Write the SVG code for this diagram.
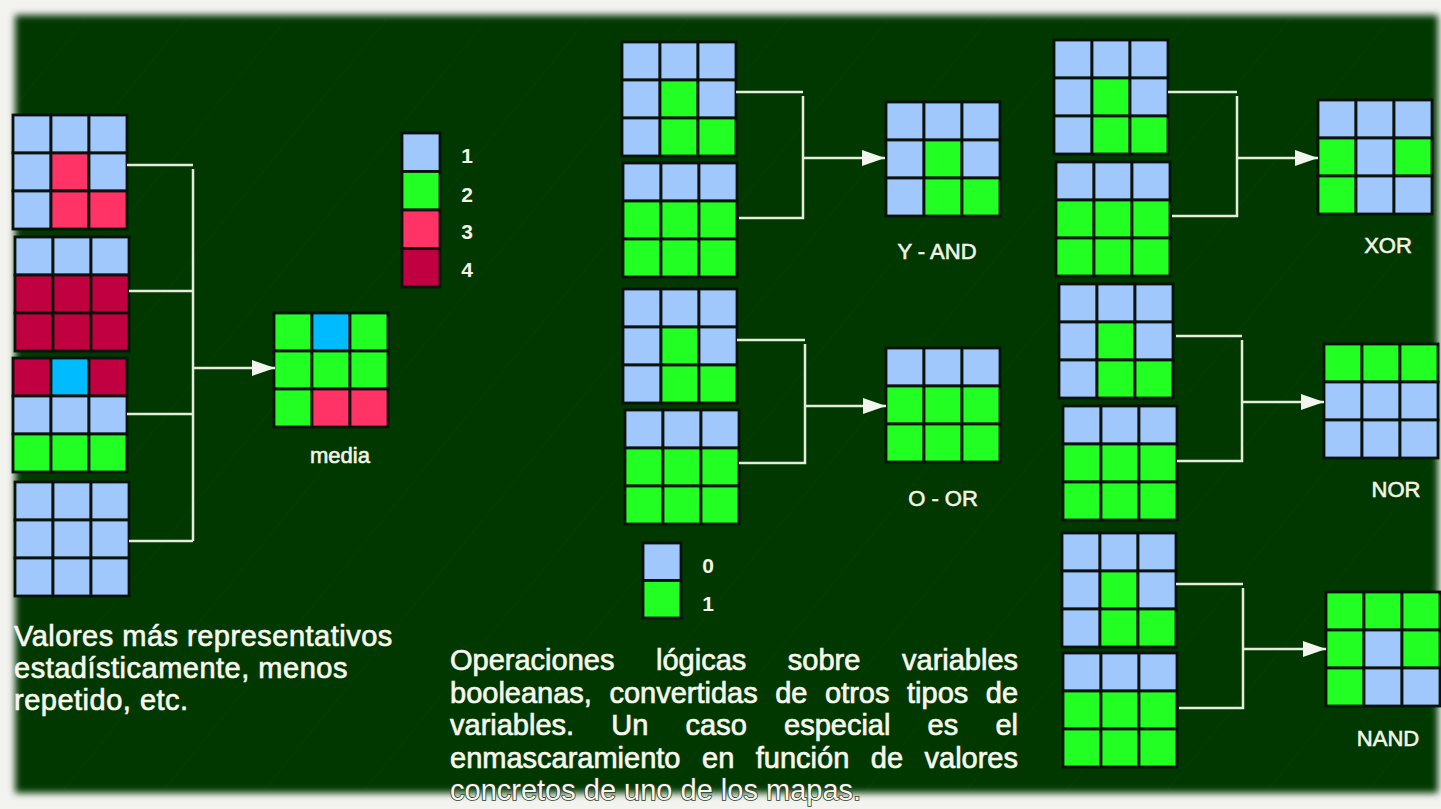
<svg xmlns="http://www.w3.org/2000/svg" width="1441" height="809" viewBox="0 0 1441 809">
<defs>
<style>
.c{stroke:#0a130b;stroke-width:2.8}
.L{fill:#a0c8fc}
.G{fill:#22ff22}
.P{fill:#ff3366}
.D{fill:#c00040}
.C{fill:#00bbff}
.wire{fill:none;stroke:#e4ecdc;stroke-width:2.5}
.lbl{font-family:"Liberation Sans",Arial,sans-serif;fill:#f4f4e6;stroke:#f4f4e6;stroke-width:0.6px;font-size:22px;text-anchor:middle}
.num{font-family:"Liberation Sans",Arial,sans-serif;fill:#f4f4e6;font-size:21px;font-weight:bold;text-anchor:middle}
.para{font-family:"Liberation Sans",Arial,sans-serif;fill:#f7f7ee;stroke:#f7f7ee;stroke-width:0.7px;font-size:29px}
</style>
<filter id="soft" x="-5%" y="-5%" width="110%" height="110%"><feGaussianBlur stdDeviation="3.5"/></filter>
<pattern id="diag" patternUnits="userSpaceOnUse" width="78" height="20" patternTransform="rotate(39)">
<line x1="0" y1="0" x2="0" y2="20" stroke="#ffffff" stroke-opacity="0.04" stroke-width="1"/>
</pattern>
<marker id="ah" markerUnits="userSpaceOnUse" markerWidth="24" markerHeight="18" refX="23" refY="8.5" orient="auto">
<path d="M0,0.5 L23,8.5 L0,16.5 z" fill="#f2f6ee"/>
</marker>
</defs>

<rect x="0" y="0" width="1441" height="809" fill="#f3f4f0"/>
<rect x="15" y="15" width="1423" height="778" fill="#033803" filter="url(#soft)"/>
<rect x="19" y="19" width="1415" height="770" fill="url(#diag)"/>

<g id="left-g1" transform="translate(13,115)">
<rect class="c L" x="0" y="0" width="38" height="38"/><rect class="c L" x="38" y="0" width="38" height="38"/><rect class="c L" x="76" y="0" width="38" height="38"/>
<rect class="c L" x="0" y="38" width="38" height="38"/><rect class="c P" x="38" y="38" width="38" height="38"/><rect class="c L" x="76" y="38" width="38" height="38"/>
<rect class="c L" x="0" y="76" width="38" height="38"/><rect class="c P" x="38" y="76" width="38" height="38"/><rect class="c P" x="76" y="76" width="38" height="38"/>
</g>
<g id="left-g2" transform="translate(15,237)">
<rect class="c L" x="0" y="0" width="38" height="38"/><rect class="c L" x="38" y="0" width="38" height="38"/><rect class="c L" x="76" y="0" width="38" height="38"/>
<rect class="c D" x="0" y="38" width="38" height="38"/><rect class="c D" x="38" y="38" width="38" height="38"/><rect class="c D" x="76" y="38" width="38" height="38"/>
<rect class="c D" x="0" y="76" width="38" height="38"/><rect class="c D" x="38" y="76" width="38" height="38"/><rect class="c D" x="76" y="76" width="38" height="38"/>
</g>
<g id="left-g3" transform="translate(13,358)">
<rect class="c D" x="0" y="0" width="38" height="38"/><rect class="c C" x="38" y="0" width="38" height="38"/><rect class="c D" x="76" y="0" width="38" height="38"/>
<rect class="c L" x="0" y="38" width="38" height="38"/><rect class="c L" x="38" y="38" width="38" height="38"/><rect class="c L" x="76" y="38" width="38" height="38"/>
<rect class="c G" x="0" y="76" width="38" height="38"/><rect class="c G" x="38" y="76" width="38" height="38"/><rect class="c G" x="76" y="76" width="38" height="38"/>
</g>
<g id="left-g4" transform="translate(15,482)">
<rect class="c L" x="0" y="0" width="38" height="38"/><rect class="c L" x="38" y="0" width="38" height="38"/><rect class="c L" x="76" y="0" width="38" height="38"/>
<rect class="c L" x="0" y="38" width="38" height="38"/><rect class="c L" x="38" y="38" width="38" height="38"/><rect class="c L" x="76" y="38" width="38" height="38"/>
<rect class="c L" x="0" y="76" width="38" height="38"/><rect class="c L" x="38" y="76" width="38" height="38"/><rect class="c L" x="76" y="76" width="38" height="38"/>
</g>
<g id="media" transform="translate(274,313)">
<rect class="c G" x="0" y="0" width="38" height="38"/><rect class="c C" x="38" y="0" width="38" height="38"/><rect class="c G" x="76" y="0" width="38" height="38"/>
<rect class="c G" x="0" y="38" width="38" height="38"/><rect class="c G" x="38" y="38" width="38" height="38"/><rect class="c G" x="76" y="38" width="38" height="38"/>
<rect class="c G" x="0" y="76" width="38" height="38"/><rect class="c P" x="38" y="76" width="38" height="38"/><rect class="c P" x="76" y="76" width="38" height="38"/>
<text class="lbl" x="66" y="150">media</text>
</g>
<g id="legend-values" transform="translate(402,133)">
<rect class="c L" x="0" y="0" width="38" height="38.5"/>
<rect class="c G" x="0" y="38.5" width="38" height="38.5"/>
<rect class="c P" x="0" y="77" width="38" height="38.5"/>
<rect class="c D" x="0" y="115.5" width="38" height="38.5"/>
<text class="num" x="65" y="30">1</text>
<text class="num" x="65" y="69">2</text>
<text class="num" x="65" y="106">3</text>
<text class="num" x="65" y="144">4</text>
</g>

<g id="and-a" transform="translate(622,42)">
<rect class="c L" x="0" y="0" width="38" height="38"/><rect class="c L" x="38" y="0" width="38" height="38"/><rect class="c L" x="76" y="0" width="38" height="38"/>
<rect class="c L" x="0" y="38" width="38" height="38"/><rect class="c G" x="38" y="38" width="38" height="38"/><rect class="c L" x="76" y="38" width="38" height="38"/>
<rect class="c L" x="0" y="76" width="38" height="38"/><rect class="c G" x="38" y="76" width="38" height="38"/><rect class="c G" x="76" y="76" width="38" height="38"/>
</g>
<g id="and-b" transform="translate(623,163)">
<rect class="c L" x="0" y="0" width="38" height="38"/><rect class="c L" x="38" y="0" width="38" height="38"/><rect class="c L" x="76" y="0" width="38" height="38"/>
<rect class="c G" x="0" y="38" width="38" height="38"/><rect class="c G" x="38" y="38" width="38" height="38"/><rect class="c G" x="76" y="38" width="38" height="38"/>
<rect class="c G" x="0" y="76" width="38" height="38"/><rect class="c G" x="38" y="76" width="38" height="38"/><rect class="c G" x="76" y="76" width="38" height="38"/>
</g>
<g id="and-out" transform="translate(886,102)">
<rect class="c L" x="0" y="0" width="38" height="38"/><rect class="c L" x="38" y="0" width="38" height="38"/><rect class="c L" x="76" y="0" width="38" height="38"/>
<rect class="c L" x="0" y="38" width="38" height="38"/><rect class="c G" x="38" y="38" width="38" height="38"/><rect class="c L" x="76" y="38" width="38" height="38"/>
<rect class="c L" x="0" y="76" width="38" height="38"/><rect class="c G" x="38" y="76" width="38" height="38"/><rect class="c G" x="76" y="76" width="38" height="38"/>
<text class="lbl" x="51" y="157">Y - AND</text>
</g>

<g id="or-a" transform="translate(623,289)">
<rect class="c L" x="0" y="0" width="38" height="38"/><rect class="c L" x="38" y="0" width="38" height="38"/><rect class="c L" x="76" y="0" width="38" height="38"/>
<rect class="c L" x="0" y="38" width="38" height="38"/><rect class="c G" x="38" y="38" width="38" height="38"/><rect class="c L" x="76" y="38" width="38" height="38"/>
<rect class="c L" x="0" y="76" width="38" height="38"/><rect class="c G" x="38" y="76" width="38" height="38"/><rect class="c G" x="76" y="76" width="38" height="38"/>
</g>
<g id="or-b" transform="translate(625,410)">
<rect class="c L" x="0" y="0" width="38" height="38"/><rect class="c L" x="38" y="0" width="38" height="38"/><rect class="c L" x="76" y="0" width="38" height="38"/>
<rect class="c G" x="0" y="38" width="38" height="38"/><rect class="c G" x="38" y="38" width="38" height="38"/><rect class="c G" x="76" y="38" width="38" height="38"/>
<rect class="c G" x="0" y="76" width="38" height="38"/><rect class="c G" x="38" y="76" width="38" height="38"/><rect class="c G" x="76" y="76" width="38" height="38"/>
</g>
<g id="or-out" transform="translate(886,348)">
<rect class="c L" x="0" y="0" width="38" height="38"/><rect class="c L" x="38" y="0" width="38" height="38"/><rect class="c L" x="76" y="0" width="38" height="38"/>
<rect class="c G" x="0" y="38" width="38" height="38"/><rect class="c G" x="38" y="38" width="38" height="38"/><rect class="c G" x="76" y="38" width="38" height="38"/>
<rect class="c G" x="0" y="76" width="38" height="38"/><rect class="c G" x="38" y="76" width="38" height="38"/><rect class="c G" x="76" y="76" width="38" height="38"/>
<text class="lbl" x="57" y="158">O - OR</text>
</g>
<g id="legend-bool" transform="translate(643,543)">
<rect class="c L" x="0" y="0" width="38" height="37.5"/>
<rect class="c G" x="0" y="37.5" width="38" height="37.5"/>
<text class="num" x="65" y="30">0</text>
<text class="num" x="65" y="68">1</text>
</g>

<g id="xor-a" transform="translate(1054,40)">
<rect class="c L" x="0" y="0" width="38" height="38"/><rect class="c L" x="38" y="0" width="38" height="38"/><rect class="c L" x="76" y="0" width="38" height="38"/>
<rect class="c L" x="0" y="38" width="38" height="38"/><rect class="c G" x="38" y="38" width="38" height="38"/><rect class="c L" x="76" y="38" width="38" height="38"/>
<rect class="c L" x="0" y="76" width="38" height="38"/><rect class="c G" x="38" y="76" width="38" height="38"/><rect class="c G" x="76" y="76" width="38" height="38"/>
</g>
<g id="xor-b" transform="translate(1056,162)">
<rect class="c L" x="0" y="0" width="38" height="38"/><rect class="c L" x="38" y="0" width="38" height="38"/><rect class="c L" x="76" y="0" width="38" height="38"/>
<rect class="c G" x="0" y="38" width="38" height="38"/><rect class="c G" x="38" y="38" width="38" height="38"/><rect class="c G" x="76" y="38" width="38" height="38"/>
<rect class="c G" x="0" y="76" width="38" height="38"/><rect class="c G" x="38" y="76" width="38" height="38"/><rect class="c G" x="76" y="76" width="38" height="38"/>
</g>
<g id="xor-out" transform="translate(1318,100)">
<rect class="c L" x="0" y="0" width="38" height="38"/><rect class="c L" x="38" y="0" width="38" height="38"/><rect class="c L" x="76" y="0" width="38" height="38"/>
<rect class="c G" x="0" y="38" width="38" height="38"/><rect class="c L" x="38" y="38" width="38" height="38"/><rect class="c G" x="76" y="38" width="38" height="38"/>
<rect class="c G" x="0" y="76" width="38" height="38"/><rect class="c L" x="38" y="76" width="38" height="38"/><rect class="c L" x="76" y="76" width="38" height="38"/>
<text class="lbl" x="70" y="153">XOR</text>
</g>

<g id="nor-a" transform="translate(1059,284)">
<rect class="c L" x="0" y="0" width="38" height="38"/><rect class="c L" x="38" y="0" width="38" height="38"/><rect class="c L" x="76" y="0" width="38" height="38"/>
<rect class="c L" x="0" y="38" width="38" height="38"/><rect class="c G" x="38" y="38" width="38" height="38"/><rect class="c L" x="76" y="38" width="38" height="38"/>
<rect class="c L" x="0" y="76" width="38" height="38"/><rect class="c G" x="38" y="76" width="38" height="38"/><rect class="c G" x="76" y="76" width="38" height="38"/>
</g>
<g id="nor-b" transform="translate(1063,406)">
<rect class="c L" x="0" y="0" width="38" height="38"/><rect class="c L" x="38" y="0" width="38" height="38"/><rect class="c L" x="76" y="0" width="38" height="38"/>
<rect class="c G" x="0" y="38" width="38" height="38"/><rect class="c G" x="38" y="38" width="38" height="38"/><rect class="c G" x="76" y="38" width="38" height="38"/>
<rect class="c G" x="0" y="76" width="38" height="38"/><rect class="c G" x="38" y="76" width="38" height="38"/><rect class="c G" x="76" y="76" width="38" height="38"/>
</g>
<g id="nor-out" transform="translate(1324,344)">
<rect class="c G" x="0" y="0" width="38" height="38"/><rect class="c G" x="38" y="0" width="38" height="38"/><rect class="c G" x="76" y="0" width="38" height="38"/>
<rect class="c L" x="0" y="38" width="38" height="38"/><rect class="c L" x="38" y="38" width="38" height="38"/><rect class="c L" x="76" y="38" width="38" height="38"/>
<rect class="c L" x="0" y="76" width="38" height="38"/><rect class="c L" x="38" y="76" width="38" height="38"/><rect class="c L" x="76" y="76" width="38" height="38"/>
<text class="lbl" x="72" y="153">NOR</text>
</g>

<g id="nand-a" transform="translate(1062,533)">
<rect class="c L" x="0" y="0" width="38" height="38"/><rect class="c L" x="38" y="0" width="38" height="38"/><rect class="c L" x="76" y="0" width="38" height="38"/>
<rect class="c L" x="0" y="38" width="38" height="38"/><rect class="c G" x="38" y="38" width="38" height="38"/><rect class="c L" x="76" y="38" width="38" height="38"/>
<rect class="c L" x="0" y="76" width="38" height="38"/><rect class="c G" x="38" y="76" width="38" height="38"/><rect class="c G" x="76" y="76" width="38" height="38"/>
</g>
<g id="nand-b" transform="translate(1063,653)">
<rect class="c L" x="0" y="0" width="38" height="38"/><rect class="c L" x="38" y="0" width="38" height="38"/><rect class="c L" x="76" y="0" width="38" height="38"/>
<rect class="c G" x="0" y="38" width="38" height="38"/><rect class="c G" x="38" y="38" width="38" height="38"/><rect class="c G" x="76" y="38" width="38" height="38"/>
<rect class="c G" x="0" y="76" width="38" height="38"/><rect class="c G" x="38" y="76" width="38" height="38"/><rect class="c G" x="76" y="76" width="38" height="38"/>
</g>
<g id="nand-out" transform="translate(1326,592)">
<rect class="c G" x="0" y="0" width="38" height="38"/><rect class="c G" x="38" y="0" width="38" height="38"/><rect class="c G" x="76" y="0" width="38" height="38"/>
<rect class="c G" x="0" y="38" width="38" height="38"/><rect class="c L" x="38" y="38" width="38" height="38"/><rect class="c G" x="76" y="38" width="38" height="38"/>
<rect class="c G" x="0" y="76" width="38" height="38"/><rect class="c L" x="38" y="76" width="38" height="38"/><rect class="c L" x="76" y="76" width="38" height="38"/>
<text class="lbl" x="62" y="154">NAND</text>
</g>

<g id="connectors">
<path class="wire" d="M127,165 H193 M129,291 H193 M127,414 H193 M129,541 H193 M193,169 V541"/>
<path class="wire" d="M193,368 H275" marker-end="url(#ah)"/>
<path class="wire" d="M736,92 H803 M803,96 V218 H739"/>
<path class="wire" d="M803,158 H885" marker-end="url(#ah)"/>
<path class="wire" d="M737,340 H805 M805,344 V463 H739"/>
<path class="wire" d="M805,406 H886" marker-end="url(#ah)"/>
<path class="wire" d="M1168,92 H1237 M1237,96 V216 H1172"/>
<path class="wire" d="M1237,158 H1318" marker-end="url(#ah)"/>
<path class="wire" d="M1176,336 H1242 M1242,340 V461 H1177"/>
<path class="wire" d="M1242,402 H1324" marker-end="url(#ah)"/>
<path class="wire" d="M1176,584 H1243 M1243,588 V708 H1179"/>
<path class="wire" d="M1243,649 H1326" marker-end="url(#ah)"/>
</g>

<g id="text-left">
<text class="para" x="14" y="646" style="letter-spacing:0.5px">Valores más representativos</text>
<text class="para" x="14" y="678" style="letter-spacing:0.5px">estadísticamente, menos</text>
<text class="para" x="14" y="710" style="letter-spacing:0.5px">repetido, etc.</text>
</g>
<g id="text-right">
<text class="para" y="670"><tspan x="450">Operaciones</tspan><tspan x="656">lógicas</tspan><tspan x="787.8">sobre</tspan><tspan x="902">variables</tspan></text>
<text class="para" y="702.5"><tspan x="450">booleanas,</tspan><tspan x="609.4">convertidas</tspan><tspan x="775.2">de</tspan><tspan x="825">otros</tspan><tspan x="907">tipos</tspan><tspan x="985.8">de</tspan></text>
<text class="para" y="735"><tspan x="450">variables.</tspan><tspan x="611.3">Un</tspan><tspan x="685.6">caso</tspan><tspan x="784">especial</tspan><tspan x="927.6">es</tspan><tspan x="995.4">el</tspan></text>
<text class="para" y="767.5"><tspan x="450">enmascaramiento</tspan><tspan x="702">en</tspan><tspan x="755.8">función</tspan><tspan x="870.8">de</tspan><tspan x="924.5">valores</tspan></text>
<text class="para" x="450" y="800" style="stroke:#2a3a2a;stroke-width:1.6px;paint-order:stroke">concretos de uno de los mapas.</text>
</g>
</svg>
